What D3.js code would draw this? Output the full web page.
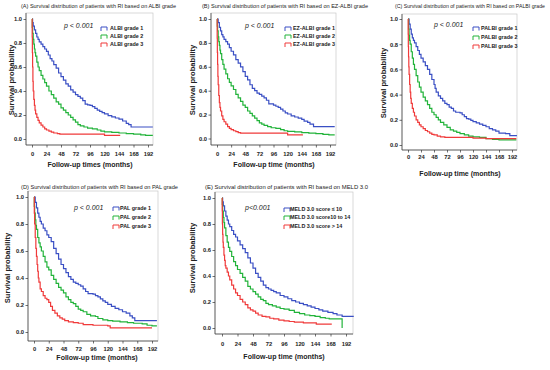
<!DOCTYPE html>
<html><head><meta charset="utf-8">
<script src="https://cdn.jsdelivr.net/npm/d3@7"></script>
<style>
body{margin:0;background:#fff;}
text{font-family:"Liberation Sans",Arial,"DejaVu Sans",sans-serif;}
</style></head>
<body><svg id="c" width="550" height="370"></svg>
<script>
// ---------- data (months, survival probability) ----------
const xTicks = [0,24,48,72,96,120,144,168,192];
const yTicks = [0,0.2,0.4,0.6,0.8,1.0];
const seriesColors = ["#3a4fc4","#22b33a","#f03a3a"];

const albiLabels = ["ALBI grade 1","ALBI grade 2","ALBI grade 3"];
const albi1 = [[0,1],[1,0.97],[2,0.94],[4,0.91],[6,0.88],[8,0.85],[10,0.83],[12,0.81],[15,0.79],[18,0.77],[21,0.75],[24,0.73],[27,0.7],[30,0.67],[33,0.65],[36,0.62],[40,0.59],[44,0.55],[48,0.52],[52,0.49],[56,0.46],[60,0.44],[64,0.41],[68,0.39],[72,0.37],[76,0.355],[80,0.34],[84,0.32],[88,0.29],[92,0.285],[96,0.28],[100,0.27],[104,0.255],[108,0.24],[112,0.23],[116,0.22],[120,0.21],[126,0.195],[132,0.185],[138,0.175],[144,0.165],[150,0.15],[156,0.13],[160,0.12],[164,0.1],[200,0.1]];
const albi2 = [[0,1],[0.5,0.93],[1,0.88],[2,0.83],[3,0.79],[4,0.75],[5,0.72],[6,0.69],[8,0.64],[10,0.6],[12,0.57],[15,0.53],[18,0.5],[21,0.47],[24,0.44],[28,0.4],[32,0.37],[36,0.34],[40,0.31],[44,0.29],[48,0.26],[52,0.24],[56,0.22],[60,0.2],[64,0.18],[68,0.16],[72,0.14],[76,0.12],[80,0.11],[86,0.1],[92,0.09],[100,0.085],[108,0.075],[114,0.065],[120,0.06],[132,0.055],[144,0.05],[156,0.045],[168,0.04],[180,0.035],[188,0.03],[200,0.03]];
const albi3 = [[0,1],[0.3,0.85],[0.6,0.72],[1,0.6],[1.5,0.48],[2,0.4],[3,0.33],[4,0.28],[5,0.24],[6,0.21],[8,0.18],[10,0.155],[12,0.135],[15,0.115],[18,0.1],[21,0.085],[24,0.075],[28,0.065],[32,0.057],[36,0.05],[42,0.045],[46,0.04],[120,0.03],[146,0.03]];

const ezLabels = ["EZ-ALBI grade 1","EZ-ALBI grade 2","EZ-ALBI grade 3"];
const ez1 = [[0,1],[2,0.97],[4,0.93],[6,0.9],[8,0.87],[10,0.85],[12,0.83],[15,0.81],[18,0.79],[21,0.76],[24,0.73],[28,0.7],[32,0.66],[36,0.63],[40,0.6],[44,0.56],[48,0.52],[52,0.49],[56,0.45],[60,0.42],[64,0.4],[68,0.38],[72,0.37],[76,0.355],[80,0.34],[84,0.32],[88,0.29],[96,0.28],[100,0.27],[104,0.26],[108,0.245],[112,0.23],[116,0.215],[120,0.205],[126,0.19],[132,0.18],[138,0.17],[144,0.16],[148,0.145],[154,0.135],[158,0.12],[164,0.1],[200,0.1]];
const ez2 = [[0,1],[0.5,0.94],[1,0.9],[2,0.85],[3,0.81],[4,0.78],[5,0.74],[6,0.71],[8,0.66],[10,0.62],[12,0.58],[15,0.54],[18,0.5],[21,0.47],[24,0.44],[28,0.41],[32,0.37],[36,0.34],[40,0.31],[44,0.28],[48,0.26],[52,0.23],[56,0.21],[60,0.19],[64,0.17],[68,0.15],[72,0.13],[76,0.12],[80,0.11],[86,0.1],[92,0.09],[100,0.085],[108,0.075],[114,0.065],[120,0.06],[132,0.055],[144,0.05],[156,0.045],[168,0.04],[180,0.035],[190,0.03],[200,0.03]];
const ez3 = [[0,1],[0.3,0.84],[0.6,0.72],[1,0.62],[1.5,0.52],[2,0.45],[3,0.36],[4,0.3],[5,0.26],[6,0.23],[8,0.19],[10,0.16],[12,0.14],[15,0.12],[18,0.1],[21,0.085],[24,0.075],[28,0.065],[32,0.057],[36,0.05],[40,0.045],[120,0.03],[146,0.03]];

const palbiLabels = ["PALBI grade 1","PALBI grade 2","PALBI grade 3"];
const palbi1 = [[0,1],[2,0.96],[4,0.92],[6,0.88],[8,0.85],[10,0.83],[12,0.81],[15,0.78],[18,0.75],[21,0.72],[24,0.69],[28,0.66],[32,0.63],[36,0.6],[40,0.56],[44,0.52],[48,0.48],[50,0.45],[52,0.42],[56,0.39],[60,0.37],[64,0.35],[68,0.33],[72,0.32],[76,0.3],[80,0.29],[84,0.27],[88,0.26],[96,0.255],[100,0.24],[104,0.225],[108,0.21],[112,0.205],[116,0.195],[120,0.185],[126,0.175],[132,0.165],[138,0.155],[144,0.145],[150,0.13],[156,0.12],[162,0.11],[168,0.095],[180,0.09],[188,0.075],[200,0.07]];
const palbi2 = [[0,1],[1,0.92],[2,0.87],[3,0.83],[4,0.8],[6,0.74],[8,0.69],[10,0.64],[12,0.6],[15,0.55],[18,0.5],[21,0.46],[24,0.42],[28,0.38],[32,0.35],[36,0.32],[40,0.29],[44,0.26],[48,0.24],[52,0.22],[56,0.2],[60,0.18],[66,0.16],[72,0.14],[78,0.12],[84,0.11],[90,0.1],[96,0.09],[104,0.08],[112,0.07],[120,0.065],[132,0.06],[144,0.05],[156,0.045],[168,0.04],[200,0.04]];
const palbi3 = [[0,1],[0.3,0.88],[0.6,0.78],[1,0.7],[1.5,0.62],[2,0.56],[3,0.48],[4,0.42],[5,0.37],[6,0.33],[8,0.29],[10,0.26],[12,0.23],[15,0.2],[18,0.18],[21,0.16],[24,0.145],[28,0.13],[32,0.115],[36,0.105],[40,0.095],[44,0.085],[48,0.08],[54,0.07],[60,0.065],[68,0.06],[120,0.055],[144,0.05],[200,0.05]];

const palLabels = ["PAL grade 1","PAL grade 2","PAL grade 3"];
const pal1 = [[0,1],[2,0.96],[4,0.92],[6,0.88],[8,0.85],[10,0.82],[12,0.8],[15,0.77],[18,0.75],[21,0.72],[24,0.7],[28,0.67],[32,0.62],[36,0.58],[40,0.54],[44,0.5],[48,0.47],[52,0.44],[56,0.41],[60,0.39],[64,0.37],[68,0.36],[72,0.35],[76,0.34],[80,0.32],[84,0.3],[88,0.285],[96,0.28],[100,0.27],[104,0.26],[108,0.245],[112,0.23],[116,0.22],[120,0.205],[126,0.19],[132,0.175],[138,0.165],[144,0.15],[150,0.14],[156,0.12],[160,0.105],[164,0.085],[200,0.085]];
const pal2 = [[0,1],[0.5,0.93],[1,0.88],[2,0.83],[3,0.79],[4,0.76],[6,0.7],[8,0.66],[10,0.63],[12,0.6],[15,0.56],[18,0.52],[21,0.48],[24,0.46],[28,0.42],[32,0.39],[36,0.36],[40,0.33],[44,0.31],[48,0.29],[52,0.26],[56,0.24],[60,0.22],[64,0.21],[68,0.19],[72,0.17],[76,0.16],[80,0.15],[86,0.13],[92,0.12],[100,0.115],[104,0.1],[112,0.09],[120,0.085],[128,0.08],[140,0.075],[152,0.07],[162,0.065],[176,0.06],[184,0.05],[192,0.045],[200,0.045]];
const pal3 = [[0,1],[0.5,0.88],[1,0.8],[2,0.7],[3,0.62],[4,0.56],[5,0.5],[6,0.45],[7,0.4],[8,0.37],[10,0.32],[12,0.3],[15,0.27],[18,0.25],[21,0.24],[24,0.22],[27,0.19],[30,0.16],[34,0.14],[38,0.12],[42,0.105],[46,0.095],[50,0.085],[56,0.075],[64,0.07],[72,0.065],[80,0.055],[96,0.05],[120,0.045],[124,0.03],[192,0.03]];

const meldLabels = ["MELD 3.0 score \u2264 10","MELD 3.0 score10 to 14","MELD 3.0 score > 14"];
const meld1 = [[0,1],[1,0.97],[2,0.94],[4,0.9],[6,0.86],[8,0.83],[10,0.8],[12,0.78],[15,0.75],[18,0.72],[21,0.7],[24,0.67],[28,0.64],[32,0.61],[36,0.58],[40,0.54],[44,0.5],[48,0.46],[52,0.42],[56,0.39],[60,0.36],[64,0.33],[68,0.31],[72,0.3],[76,0.29],[80,0.28],[84,0.27],[90,0.25],[96,0.24],[102,0.225],[108,0.21],[114,0.2],[120,0.19],[126,0.18],[132,0.17],[138,0.16],[144,0.15],[150,0.14],[156,0.13],[164,0.12],[172,0.11],[178,0.1],[186,0.09],[204,0.09]];
const meld2 = [[0,1],[0.5,0.95],[1,0.9],[2,0.85],[3,0.81],[4,0.77],[6,0.71],[8,0.66],[10,0.62],[12,0.59],[15,0.55],[18,0.51],[21,0.48],[24,0.45],[28,0.42],[32,0.39],[36,0.36],[40,0.32],[44,0.3],[48,0.28],[52,0.26],[56,0.24],[60,0.22],[64,0.21],[68,0.19],[72,0.18],[78,0.17],[84,0.16],[90,0.15],[96,0.145],[104,0.135],[112,0.12],[120,0.11],[128,0.1],[136,0.095],[144,0.09],[152,0.08],[160,0.075],[166,0.07],[186,0]];
const meld3 = [[0,1],[0.3,0.9],[0.6,0.8],[1,0.72],[1.5,0.66],[2,0.62],[3,0.56],[4,0.52],[5,0.48],[6,0.46],[8,0.43],[10,0.4],[12,0.37],[15,0.33],[18,0.3],[21,0.27],[24,0.25],[28,0.22],[32,0.2],[36,0.18],[40,0.155],[44,0.14],[48,0.13],[52,0.115],[56,0.1],[62,0.09],[68,0.085],[74,0.075],[80,0.07],[88,0.06],[96,0.055],[104,0.05],[112,0.045],[126,0.04],[146,0.03],[170,0.03]];

// ---------- layout ----------
const panels = [
 {title:"(A) Survival distribution of patients with RI based on ALBI grade", tx:21, ty:8, tw:155,
  L:26, R:153, T:13, B:145, x0:32, x192:148, y1:19, y0:139, ylx:12, yly:80, xlx:90, xly:165, xlab:"Follow-up times (months)", tly:154,
  p:"p < 0.001", px:64, py:28, legSym:101, legTx:110, legY:[29,37,45], labels:albiLabels, series:[albi1,albi2,albi3]},
 {title:"(B) Survival distribution of patients with RI based on EZ-ALBI grade", tx:202, ty:8, tw:166,
  L:211, R:336, T:13, B:145, x0:217, x192:330, y1:19, y0:138.5, ylx:193, yly:80, xlx:274, xly:165, xlab:"Follow-up time (months)", tly:154,
  p:"p < 0.001", px:245, py:28, legSym:285, legTx:293, legY:[29,37,45], labels:ezLabels, series:[ez1,ez2,ez3]},
 {title:"(C) Survival distribution of patients with RI based on PALBI grade", tx:395, ty:8, tw:150,
  L:402, R:517, T:14, B:150, x0:408, x192:512, y1:19, y0:145, ylx:384, yly:83, xlx:460, xly:174, xlab:"Follow-up time (months)", tly:157,
  p:"p < 0.001", px:434, py:27, legSym:473, legTx:481, legY:[29,38,47], labels:palbiLabels, series:[palbi1,palbi2,palbi3]},
 {title:"(D) Survival distribution of patients with RI based on PAL grade", tx:21, ty:189, tw:157,
  L:28, R:158, T:191, B:341, x0:34, x192:152, y1:197, y0:332, ylx:8, yly:268, xlx:97, xly:358, xlab:"Follow-up time (months)", tly:349,
  p:"p < 0.001", px:74, py:210, legSym:113, legTx:120, legY:[209,218,227], labels:palLabels, series:[pal1,pal2,pal3]},
 {title:"(E) Survival distribution of patients with RI based on MELD 3.0", tx:205, ty:189, tw:163,
  L:215, R:353, T:192, B:334, x0:222, x192:346, y1:198, y0:328, ylx:193, yly:258, xlx:284, xly:357, xlab:"Follow-up time (months)", tly:344,
  p:"p<0.001", px:245, py:210, legSym:284, legTx:290, legY:[210,218,227], labels:meldLabels, series:[meld1,meld2,meld3]}
];

const svg = d3.select("#c");

panels.forEach(P => {
  const g = svg.append("g");
  const x = d3.scaleLinear().domain([0,192]).range([P.x0, P.x192]);
  const y = d3.scaleLinear().domain([0,1]).range([P.y0, P.y1]);
  g.append("rect").attr("x",P.L).attr("y",P.T).attr("width",P.R-P.L).attr("height",P.B-P.T)
    .attr("fill","none").attr("stroke","#c8c8c8").attr("stroke-width",0.7);
  const xa = d3.axisBottom(x).tickValues(xTicks).tickSize(2.5).tickPadding(2.5).tickFormat(d3.format("d"));
  const ya = d3.axisLeft(y).tickValues(yTicks).tickSize(2.5).tickPadding(1.5).tickFormat(d3.format(".1f"));
  const gx = g.append("g").attr("transform",`translate(0,${P.B})`).call(xa);
  gx.select(".domain").attr("d",`M${P.L},0H${P.R}`);
  const gy = g.append("g").attr("transform",`translate(${P.L},0)`).call(ya);
  gy.select(".domain").attr("d",`M0,${P.T}V${P.B}`);
  [gx,gy].forEach(a=>{
    a.selectAll("path,line").attr("stroke","#333").attr("stroke-width",0.7);
    a.selectAll("text").attr("font-size",5.8).attr("font-weight","bold").attr("fill","#222")
      .attr("font-family","Liberation Sans, Arial, sans-serif");
  });
  gx.selectAll("text").attr("y",null).attr("dy",null).attr("transform",`translate(0,${P.tly-P.B})`).attr("dominant-baseline","middle");
  const line = d3.line().x(d=>x(d[0])).y(d=>y(d[1])).curve(d3.curveStepAfter);
  P.series.forEach((s,i)=>{
    g.append("path").datum(s).attr("d",line).attr("fill","none")
      .attr("stroke",seriesColors[i]).attr("stroke-width",1.2);
  });
  g.append("text").attr("x",P.tx).attr("y",P.ty).text(P.title)
    .attr("font-size",5.3).attr("fill","#222").attr("textLength",P.tw).attr("lengthAdjust","spacingAndGlyphs");
  g.append("text").attr("x",P.xlx).attr("y",P.xly).attr("text-anchor","middle").attr("dominant-baseline","middle")
    .attr("font-size",7).attr("font-weight","bold").attr("fill","#222").text(P.xlab);
  g.append("text").attr("transform",`translate(${P.ylx},${P.yly}) rotate(-90)`).attr("text-anchor","middle")
    .attr("dominant-baseline","middle").attr("font-size",7.6).attr("font-weight","bold").attr("fill","#222").text("Survival probability");
  g.append("text").attr("x",P.px).attr("y",P.py).attr("font-size",7).attr("font-style","italic").attr("fill","#222").text(P.p);
  P.labels.forEach((lab,i)=>{
    const ly = P.legY[i];
    g.append("path").attr("d",`M${P.legSym},${ly+2}V${ly-2}H${P.legSym+6}V${ly+1.5}`)
      .attr("fill","none").attr("stroke",seriesColors[i]).attr("stroke-width",1);
    g.append("text").attr("x",P.legTx).attr("y",ly).attr("dominant-baseline","middle")
      .attr("font-size",5.4).attr("font-weight","bold").attr("fill","#222").text(lab);
  });
});
</script></body></html>
